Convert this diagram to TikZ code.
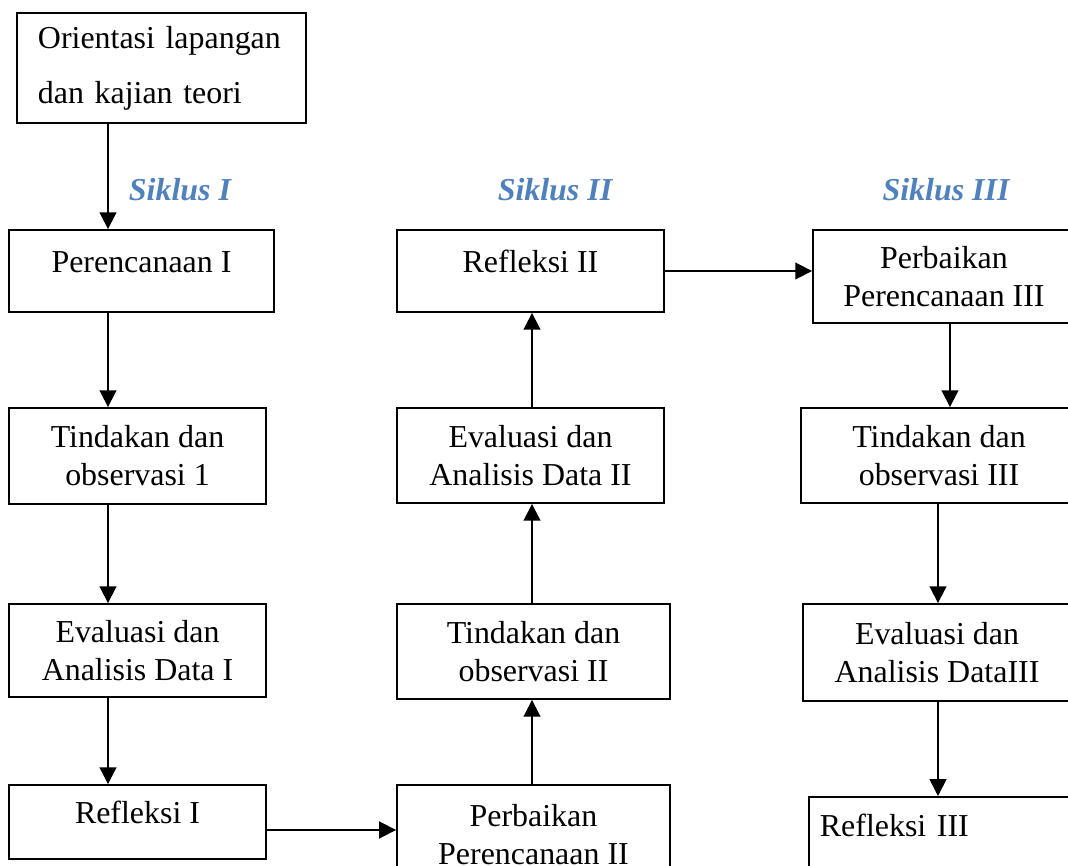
\documentclass[tikz,border=0pt]{standalone}
\usepackage{fontspec}
\setmainfont{Liberation Serif}
\usepackage{tikz}
\usetikzlibrary{arrows.meta,positioning,calc}
\definecolor{SiklusBlue}{HTML}{4F81BD}

\begin{document}
\begin{tikzpicture}[x=0.025cm,y=-0.025cm,
    box/.style={rectangle,draw=black,line width=1.3pt,align=center,inner sep=0pt,font=\fontsize{22.7}{27}\selectfont},
    raised/.style={text height=16pt,text depth=14pt},
    siklus/.style={font=\fontsize{22.7}{27}\selectfont\bfseries\itshape,text=SiklusBlue},
    arrow/.style={-{Triangle[length=4.2mm,width=4.2mm]},line width=1.3pt}
]
\useasboundingbox (0,0) rectangle (1068,866);
\clip (0,0) rectangle (1068,866);

% column axes of the connectors
\coordinate (c1) at (108,0);
\coordinate (c2) at (532,0);
\coordinate (c3a) at (950,0);
\coordinate (c3b) at (938,0);
\coordinate (r1) at (0,830);

\node[box,minimum width=7.225cm,minimum height=2.75cm,text width=6.175cm,align=left,font=\fontsize{22.7}{39}\selectfont] (orient) at (161.5,68) {Orientasi lapangan\\dan kajian teori};

\node[siklus] (sik1) at (180,190) {Siklus I};
\node[siklus] (sik2) at (555,190) {Siklus II};
\node[siklus] (sik3) at (946,190) {Siklus III};

% siklus I
\node[box,raised,minimum width=6.625cm,minimum height=2.05cm] (per1) at (141.5,271) {Perencanaan I};
\node[box,minimum width=6.425cm,minimum height=2.4cm] (tin1) at (137.5,456) {Tindakan dan\\observasi 1};
\node[box,minimum width=6.425cm,minimum height=2.325cm] (eva1) at (137.5,650.5) {Evaluasi dan\\Analisis Data I};
\node[box,raised,minimum width=6.425cm,minimum height=1.85cm] (ref1) at (137.5,822) {Refleksi I};

% siklus II
\node[box,minimum width=6.825cm,minimum height=2.5cm] (per2) at (533.5,835) {Perbaikan\\Perencanaan II};
\node[box,minimum width=6.825cm,minimum height=2.375cm] (tin2) at (533.5,651.5) {Tindakan dan\\observasi II};
\node[box,minimum width=6.675cm,minimum height=2.375cm] (eva2) at (530.5,455.5) {Evaluasi dan\\Analisis Data II};
\node[box,raised,minimum width=6.675cm,minimum height=2.05cm] (ref2) at (530.5,271) {Refleksi II};

% siklus III
\node[box,minimum width=6.55cm,minimum height=2.325cm] (per3) at (944,276.5) {Perbaikan\\Perencanaan III};
\node[box,minimum width=6.9cm,minimum height=2.375cm] (tin3) at (939,455.5) {Tindakan dan\\observasi III};
\node[box,minimum width=6.7cm,minimum height=2.425cm] (eva3) at (937,652.5) {Evaluasi dan\\Analisis DataIII};
\node[box,anchor=north west,minimum width=6.75cm,minimum height=2.25cm,text width=6.2cm,align=left,text height=16pt,text depth=24pt] (ref3) at (808,796) {Refleksi III};

\draw[arrow] (orient.south -| c1) -- (per1.north -| c1);
\draw[arrow] (per1.south -| c1) -- (tin1.north -| c1);
\draw[arrow] (tin1.south -| c1) -- (eva1.north -| c1);
\draw[arrow] (eva1.south -| c1) -- (ref1.north -| c1);
\draw[arrow] (ref1.east |- r1) -- (per2.west |- r1);
\draw[arrow] (per2.north -| c2) -- (tin2.south -| c2);
\draw[arrow] (tin2.north -| c2) -- (eva2.south -| c2);
\draw[arrow] (eva2.north -| c2) -- (ref2.south -| c2);
\draw[arrow] (ref2.east) -- (ref2.east -| per3.west);
\draw[arrow] (per3.south -| c3a) -- (tin3.north -| c3a);
\draw[arrow] (tin3.south -| c3b) -- (eva3.north -| c3b);
\draw[arrow] (eva3.south -| c3b) -- (ref3.north -| c3b);
\end{tikzpicture}
\end{document}
